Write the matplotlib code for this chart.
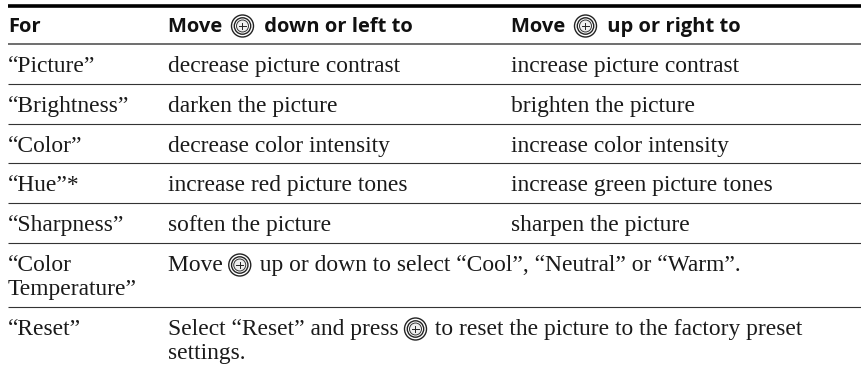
import matplotlib
matplotlib.use("Agg")
import matplotlib.pyplot as plt
from matplotlib.patches import Circle

header = ["For", "Move @ down or left to", "Move @ up or right to"]
col_for = ["“Picture”", "“Brightness”", "“Color”", "“Hue”*", "“Sharpness”", "“Color\nTemperature”", "“Reset”"]
col_down = ["decrease picture contrast", "darken the picture", "decrease color intensity",
            "increase red picture tones", "soften the picture"]
col_up = ["increase picture contrast", "brighten the picture", "increase color intensity",
          "increase green picture tones", "sharpen the picture"]
wide_rows = ["Move @ up or down to select “Cool”, “Neutral” or “Warm”.",
             "Select “Reset” and press @ to reset the picture to the factory preset\nsettings."]

# layout, in pixels of the 862x368 picture
col_x = [8, 168, 511]
baseline_y = [72, 112, 152, 191, 231, 271, 335]
rule_y = [44, 84, 124, 163, 203, 243, 307]
line_h = 24.5
rule_end = 862
serif = dict(family="Liberation Serif", fontsize=16.9, color="#1a1a1a")
bold = dict(family="Open Sans", fontsize=14.5, fontweight="bold", color="#111111")

fig = plt.figure(figsize=(8.62, 3.68), dpi=100)
ax = fig.add_axes([0, 0, 1, 1])
ax.set_xlim(0, 862)
ax.set_ylim(368, 0)
ax.axis("off")


def icon(x, y):
    ax.add_patch(Circle((x, y), 11.0, fc="white", ec="#222222", lw=1.0))
    ax.add_patch(Circle((x, y), 8.2, fc="white", ec="#222222", lw=1.0))
    ax.add_patch(Circle((x, y), 6.0, fc="#eeeeee", ec="#333333", lw=0.7))
    ax.plot([x - 3.3, x + 3.3], [y, y], color="#222222", lw=0.7)
    ax.plot([x, x], [y - 3.3, y + 3.3], color="#222222", lw=0.7)


def put(x, y, s, style, pad=11, adv=25):
    # text is written piece by piece so the icon lands where the "@" stands
    renderer = fig.canvas.get_renderer()
    parts = s.split("@")
    for i, part in enumerate(parts):
        ax.text(x, y, part, va="baseline", ha="left", **style)
        # spaces at the ends are not measured, so measure with a stand-in
        probe = ax.text(0, 0, part + ".", **style)
        dot = ax.text(0, 0, ".", **style)
        w = probe.get_window_extent(renderer).width - dot.get_window_extent(renderer).width
        probe.remove()
        dot.remove()
        x += w
        if i < len(parts) - 1:
            icon(x + pad, y - 6)
            x += adv


ax.plot([8, rule_end], [6, 6], color="black", lw=2.6, solid_capstyle="butt")
ax.plot([8, rule_end], [rule_y[0], rule_y[0]], color="#555555", lw=1.2, solid_capstyle="butt")
for y in rule_y[1:]:
    ax.plot([8, rule_end], [y, y], color="#333333", lw=0.8, solid_capstyle="butt")

for x, s in zip(col_x, header):
    put(x, 32, s, bold, pad=15, adv=32)
for i, s in enumerate(col_for):
    for j, line in enumerate(s.split("\n")):
        put(col_x[0], baseline_y[i] + j * line_h, line, serif)
for i, (a, b) in enumerate(zip(col_down, col_up)):
    put(col_x[1], baseline_y[i], a, serif)
    put(col_x[2], baseline_y[i], b, serif)
for y, s in zip(baseline_y[5:], wide_rows):
    for j, line in enumerate(s.split("\n")):
        put(col_x[1], y + j * line_h, line, serif)

fig.savefig("out.png", dpi=100)
